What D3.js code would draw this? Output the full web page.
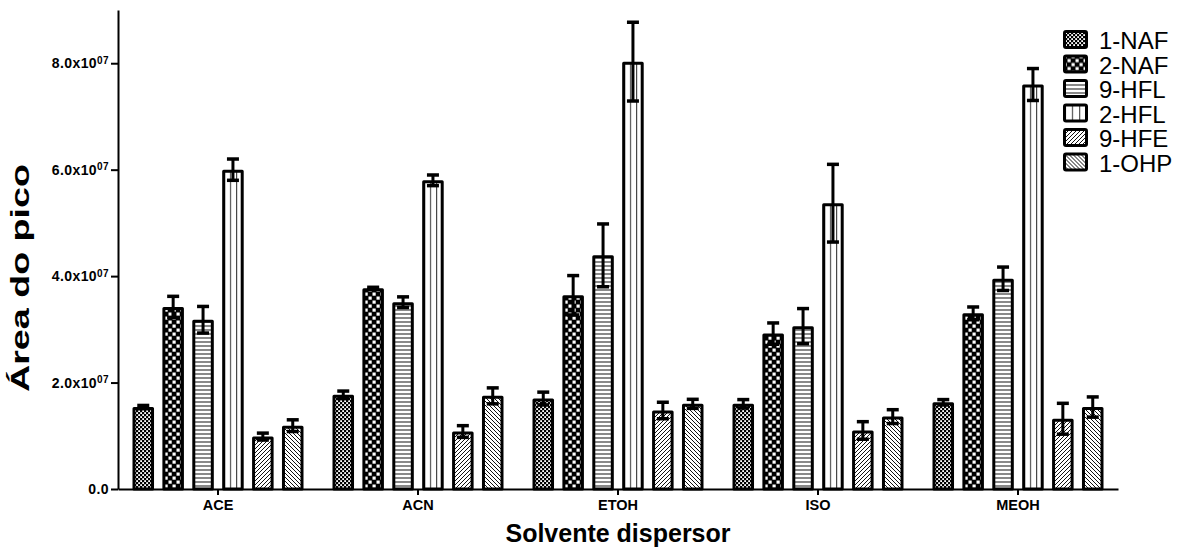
<!DOCTYPE html>
<html>
<head>
<meta charset="utf-8">
<script src="https://cdn.jsdelivr.net/npm/d3@7"></script>
<style>
  html, body { margin: 0; padding: 0; background: #fff; }
  svg { display: block; font-family: "Liberation Sans", Arial, Helvetica, sans-serif; }
</style>
</head>
<body>
<svg id="chart" width="1181" height="548"></svg>
<script>
// Solvents (x groups) and analytes (series)
const groups = ["ACE", "ACN", "ETOH", "ISO", "MEOH"];
const series = ["1-NAF", "2-NAF", "9-HFL", "2-HFL", "9-HFE", "1-OHP"];

// Peak areas (mean) and error (± SD), in units of 1e7
const naf1    = [1.54, 1.77, 1.70, 1.60, 1.63];
const naf1Err = [0.03, 0.07, 0.12, 0.08, 0.05];
const naf2    = [3.42, 3.77, 3.64, 2.92, 3.30];
const naf2Err = [0.20, 0.02, 0.37, 0.20, 0.12];
const hfl9    = [3.18, 3.51, 4.39, 3.06, 3.95];
const hfl9Err = [0.25, 0.10, 0.59, 0.33, 0.22];
const hfl2    = [6.00, 5.80, 8.03, 5.37, 7.60];
const hfl2Err = [0.20, 0.10, 0.74, 0.73, 0.30];
const hfe9    = [0.985, 1.08, 1.475, 1.10, 1.32];
const hfe9Err = [0.065, 0.11, 0.155, 0.165, 0.29];
const ohp1    = [1.19, 1.75, 1.60, 1.36, 1.54];
const ohp1Err = [0.11, 0.15, 0.085, 0.13, 0.19];

// Y axis ticks
const yTicks = [0, 2e7, 4e7, 6e7, 8e7];
const yTickMantissa = ["0.0", "2.0", "4.0", "6.0", "8.0"];
const yTickExponent = "07";

const unit = 1e7;
const means = [naf1, naf2, hfl9, hfl2, hfe9, ohp1];
const errs = [naf1Err, naf2Err, hfl9Err, hfl2Err, hfe9Err, ohp1Err];

const rows = [];
groups.forEach((g, gi) => {
  series.forEach((s, si) => {
    rows.push({ group: g, series: s, value: means[si][gi] * unit, err: errs[si][gi] * unit });
  });
});

const svg = d3.select("#chart");
const defs = svg.append("defs");

// Fill patterns, one per series
const patId = s => "pat-" + s.replace(/[^A-Za-z0-9]/g, "");

// 1-NAF: fine white dots on black
{
  const p = defs.append("pattern").attr("id", patId("1-NAF"))
    .attr("patternUnits", "userSpaceOnUse").attr("width", 4).attr("height", 4);
  p.append("rect").attr("width", 4).attr("height", 4).attr("fill", "#000");
  p.append("rect").attr("x", 0.2).attr("y", 0.2).attr("width", 1.8).attr("height", 1.8).attr("fill", "#fff");
  p.append("rect").attr("x", 2.2).attr("y", 2.2).attr("width", 1.8).attr("height", 1.8).attr("fill", "#fff");
}
// 2-NAF: checkerboard
{
  const p = defs.append("pattern").attr("id", patId("2-NAF"))
    .attr("patternUnits", "userSpaceOnUse").attr("width", 8).attr("height", 8);
  p.append("rect").attr("width", 8).attr("height", 8).attr("fill", "#000");
  p.append("rect").attr("x", 0.5).attr("y", 0.5).attr("width", 3.2).attr("height", 3.2).attr("fill", "#fff");
  p.append("rect").attr("x", 4.5).attr("y", 4.5).attr("width", 3.2).attr("height", 3.2).attr("fill", "#fff");
}
// 9-HFL: horizontal lines
{
  const p = defs.append("pattern").attr("id", patId("9-HFL"))
    .attr("patternUnits", "userSpaceOnUse").attr("width", 8).attr("height", 4);
  p.append("rect").attr("width", 8).attr("height", 4).attr("fill", "#fff");
  p.append("line").attr("x1", 0).attr("x2", 8).attr("y1", 2).attr("y2", 2)
    .attr("stroke", "#3a3a3a").attr("stroke-width", 1.2);
}
// 2-HFL: vertical lines splitting the bar in thirds
{
  const p = defs.append("pattern").attr("id", patId("2-HFL"))
    .attr("patternUnits", "objectBoundingBox").attr("width", 1 / 3).attr("height", 1);
  p.append("rect").attr("width", 100).attr("height", 2000).attr("fill", "#fff");
  p.append("line").attr("x1", 0).attr("x2", 0).attr("y1", 0).attr("y2", 2000)
    .attr("stroke", "#444").attr("stroke-width", 2.2);
}
// 9-HFE: forward diagonals
{
  const p = defs.append("pattern").attr("id", patId("9-HFE"))
    .attr("patternUnits", "userSpaceOnUse").attr("width", 4).attr("height", 4);
  p.append("rect").attr("width", 4).attr("height", 4).attr("fill", "#fff");
  p.append("path").attr("d", "M-1,1 l2,-2 M0,4 l4,-4 M3,5 l2,-2")
    .attr("stroke", "#111").attr("stroke-width", 1);
}
// 1-OHP: backward diagonals
{
  const p = defs.append("pattern").attr("id", patId("1-OHP"))
    .attr("patternUnits", "userSpaceOnUse").attr("width", 4).attr("height", 4);
  p.append("rect").attr("width", 4).attr("height", 4).attr("fill", "#fff");
  p.append("path").attr("d", "M-1,3 l2,2 M0,0 l4,4 M3,-1 l2,2")
    .attr("stroke", "#111").attr("stroke-width", 1);
}

// Scales
const x0 = d3.scaleBand().domain(groups).range([118, 1118])
  .paddingInner(0.145).paddingOuter(0.0725);
const x1 = d3.scaleBand().domain(series).range([0, x0.bandwidth()]).paddingInner(0.28);
const y = d3.scaleLinear().domain([0, 9e7]).range([489, 10]);

const bw = 3; // bar border width

// Bars
svg.append("g").selectAll("rect").data(rows).join("rect")
  .attr("x", d => x0(d.group) + x1(d.series) + bw / 2)
  .attr("width", x1.bandwidth() - bw)
  .attr("y", d => y(d.value) + bw / 2)
  .attr("height", d => y(0) - y(d.value) - bw / 2)
  .attr("fill", d => `url(#${patId(d.series)})`)
  .attr("stroke", "#000").attr("stroke-width", bw)
  .attr("stroke-linejoin", "round");

// Error bars
const capW = 12;
const eb = svg.append("g").attr("stroke", "#000").attr("stroke-linecap", "butt");
rows.forEach(d => {
  const cx = x0(d.group) + x1(d.series) + x1.bandwidth() / 2;
  const yHi = y(d.value + d.err), yLo = y(d.value - d.err);
  eb.append("line").attr("x1", cx).attr("x2", cx).attr("y1", yHi).attr("y2", yLo).attr("stroke-width", 3);
  eb.append("line").attr("x1", cx - capW / 2).attr("x2", cx + capW / 2).attr("y1", yHi).attr("y2", yHi).attr("stroke-width", 3.5);
  eb.append("line").attr("x1", cx - capW / 2).attr("x2", cx + capW / 2).attr("y1", yLo).attr("y2", yLo).attr("stroke-width", 3.5);
});

// Y axis
const yAxis = svg.append("g").attr("transform", "translate(118,0)")
  .call(d3.axisLeft(y).tickValues(yTicks).tickSize(7).tickSizeOuter(0).tickPadding(2));
yAxis.select(".domain").attr("stroke-width", 2);
yAxis.selectAll(".tick line").attr("stroke-width", 2);
yAxis.selectAll(".tick text").each(function (d, i) {
  const t = d3.select(this).text(null)
    .attr("font-size", 14).attr("font-weight", "bold").attr("fill", "#000")
    .attr("letter-spacing", 0.4)
    .attr("font-family", "'Liberation Sans', Arial, sans-serif");
  if (d === 0) {
    t.text(yTickMantissa[i]);
  } else {
    t.append("tspan").text(yTickMantissa[i] + "x10");
    t.append("tspan").attr("dy", "-0.45em").attr("font-size", 10).text(yTickExponent);
  }
});

// X axis
const xAxis = svg.append("g").attr("transform", `translate(0,${y(0)})`)
  .call(d3.axisBottom(x0).tickSize(6).tickSizeOuter(0).tickPadding(5));
xAxis.select(".domain").attr("stroke-width", 2);
xAxis.selectAll(".tick line").attr("stroke-width", 2);
xAxis.selectAll(".tick text")
  .attr("font-size", 14.5).attr("font-weight", "bold").attr("fill", "#000")
  .attr("font-family", "'Liberation Sans', Arial, sans-serif");

// Axis titles
svg.append("text")
  .attr("x", (x0.range()[0] + x0.range()[1]) / 2).attr("y", 542)
  .attr("text-anchor", "middle").attr("font-size", 25).attr("font-weight", "bold")
  .text("Solvente dispersor");

svg.append("text")
  .attr("transform", "translate(29,278) rotate(-90)")
  .attr("text-anchor", "middle").attr("font-size", 26).attr("font-weight", "bold")
  .attr("textLength", 228).attr("lengthAdjust", "spacingAndGlyphs")
  .text("Área do pico");

// Legend
const legend = svg.append("g").attr("transform", "translate(1063,30)");
series.forEach((s, i) => {
  const g = legend.append("g").attr("transform", `translate(0,${i * 24.5})`);
  g.append("rect").attr("x", 1.5).attr("y", 1.5).attr("width", 22).attr("height", 16)
    .attr("rx", 1.5).attr("fill", `url(#${patId(s)})`)
    .attr("stroke", "#000").attr("stroke-width", 3);
  g.append("text").attr("x", 36).attr("y", 19).attr("font-size", 24).text(s);
});
</script>
</body>
</html>
